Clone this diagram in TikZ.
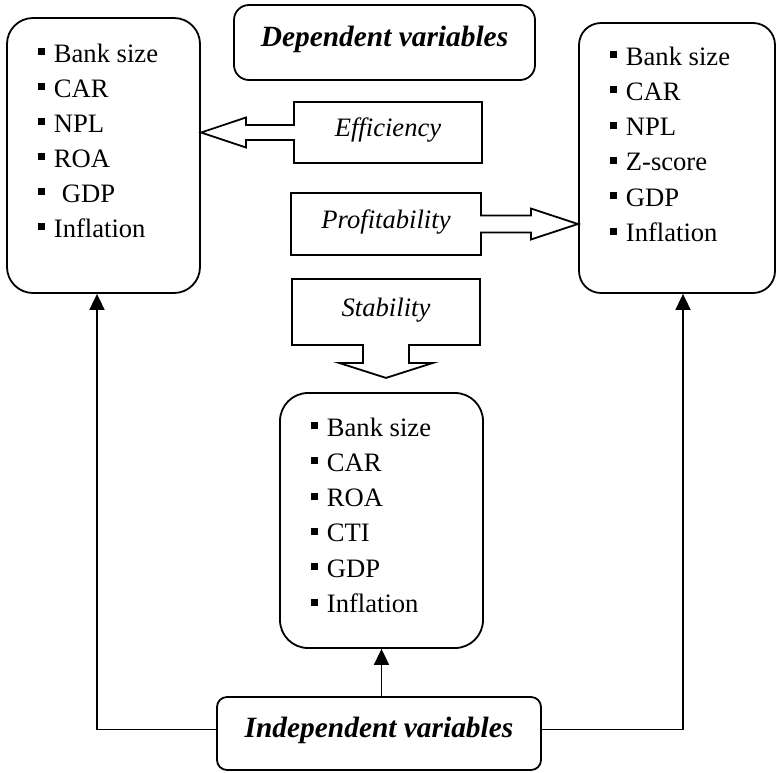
\documentclass[tikz,border=0pt]{standalone}
\usepackage{fontspec}
\setmainfont{Liberation Serif}
\usetikzlibrary{arrows.meta,shapes.arrows}
\newcommand{\sqbul}{\rule[3.5pt]{3.5pt}{3.5pt}\hspace{4.5pt}}

\begin{document}
\begin{tikzpicture}[x=0.5pt, y=-0.5pt, line width=0.9pt,
  every node/.style={font=\fontsize{13.3}{16}\selectfont},
  varbox/.style={draw, rounded corners=#1, inner sep=0pt, text height=10pt, text depth=6pt,
    font=\fontsize{14.7}{17}\selectfont\bfseries\itshape},
  listbox/.style={draw, rounded corners=#1, inner sep=0pt},
  item/.style={anchor=base west, inner sep=0pt},
  callout/.style={arrow box, draw, inner sep=0pt, text height=9pt, text depth=5pt,
    arrow box head indent=0pt, font=\fontsize{13.3}{16}\selectfont\itshape},
  link/.style={-{Triangle[length=8pt,width=7.5pt]}}]
\useasboundingbox (0,0) rectangle (776,772);

\node[varbox=7.5pt, minimum width=150.5pt, minimum height=37.5pt] (dep) at (384.5,42.5) {Dependent variables};

\node[callout, minimum width=94pt, minimum height=30.5pt, arrow box arrows={west:46pt},
  arrow box shaft width=7.5pt, arrow box head extend=3.75pt, arrow box tip angle=36.9] (eff) at (388,132.5) {Efficiency};
\node[callout, minimum width=95pt, minimum height=31pt, arrow box arrows={east:48pt},
  arrow box shaft width=8.5pt, arrow box head extend=3.5pt, arrow box tip angle=36.5] (prof) at (386,224) {Profitability};
\node[callout, minimum width=94pt, minimum height=33pt, arrow box arrows={south:16pt},
  arrow box shaft width=23pt, arrow box head extend=12pt, arrow box tip angle=144.6] (stab) at (386,312) {Stability};

\node[listbox=13pt, minimum width=96.5pt, minimum height=137.5pt] (lbox) at (103.5,155.5) {};
\foreach \t [count=\i] in {Bank size, CAR, NPL, ROA, \hspace{4pt}GDP, Inflation}
  \node[item] (l\i) at (37,{62+35*(\i-1)}) {\sqbul\t};

\node[listbox=11pt, minimum width=98pt, minimum height=135pt] (rbox) at (677,158) {};
\foreach \t [count=\i] in {Bank size, CAR, NPL, Z-score, GDP, Inflation}
  \node[item] (r\i) at (609,{65+35.3*(\i-1)}) {\sqbul\t};

\node[listbox=14pt, minimum width=101.5pt, minimum height=127.5pt] (mbox) at (381.5,520.5) {};
\foreach \t [count=\i] in {Bank size, CAR, ROA, CTI, GDP, Inflation}
  \node[item] (m\i) at (310,{436+35.3*(\i-1)}) {\sqbul\t};

\node[varbox=5pt, minimum width=162pt, minimum height=36.5pt] (indep) at (379,733.5) {Independent variables};

\draw[link] ([yshift=2pt]indep.west) -| ([xshift=-3.25pt]lbox.south);
\draw[link] ([yshift=2pt]indep.east) -| ([xshift=3pt]rbox.south);
\draw[link] (mbox.south |- indep.north) -- (mbox.south);
\end{tikzpicture}
\end{document}
